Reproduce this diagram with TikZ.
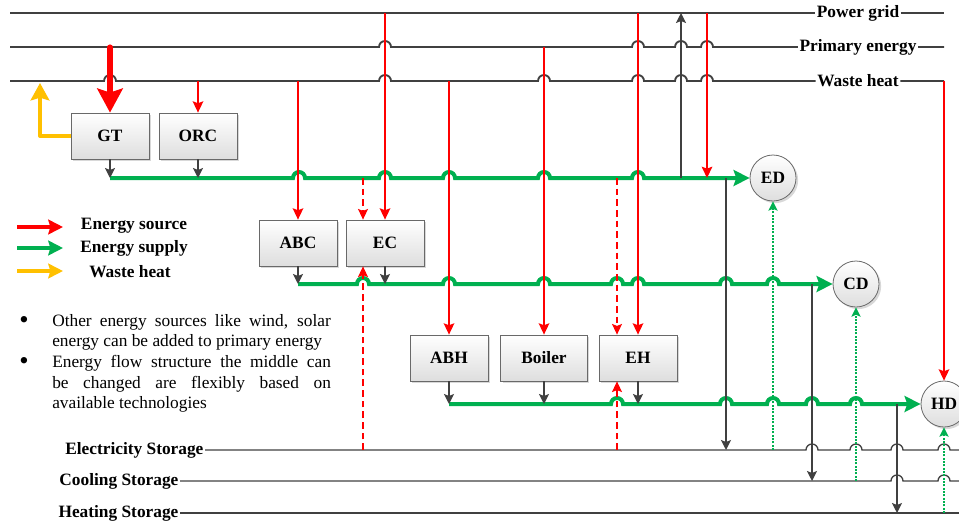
\documentclass[tikz,border=0pt]{standalone}
\usepackage{fontspec}
\setmainfont{Liberation Serif}
\definecolor{srcred}{RGB}{255,0,0}
\definecolor{supgreen}{RGB}{0,176,80}
\definecolor{heatgold}{RGB}{255,192,0}
\definecolor{ink}{RGB}{64,64,64}
\definecolor{rim}{RGB}{105,105,105}
\usetikzlibrary{arrows.meta,positioning,shadows}

\begin{document}
\begin{tikzpicture}[x=0.75pt,y=-0.75pt,
    lab/.style={font=\bfseries\fontsize{13}{15}\selectfont, inner sep=1pt},
    unit/.style={lab, draw=rim, line width=0.6pt, top color=white, bottom color=black!13,
      minimum width=58.5pt, minimum height=34.5pt,
      drop shadow={shadow xshift=1.6pt, shadow yshift=-1.6pt, fill=black!30}},
    load/.style={unit, circle, minimum width=34.5pt, minimum height=34.5pt, inner sep=0pt},
    grid/.style={draw=ink, line width=1.4pt},
    store/.style={draw=ink, line width=1pt},
    supply/.style={draw=supgreen, line width=3pt, -{Stealth[length=12pt,width=12pt,inset=2pt]}},
    src/.style={draw=srcred, line width=1.1pt, -{Stealth[length=8.5pt,width=8pt,inset=1.5pt]}},
    tap/.style={draw=srcred, line width=0.8pt, dash pattern=on 5pt off 3pt,
      -{Stealth[length=8pt,width=7.5pt,inset=1.5pt]}},
    flow/.style={draw=ink, line width=1pt, -{Stealth[length=7.5pt,width=7.5pt,inset=1.5pt]}},
    back/.style={draw=supgreen, line width=0.8pt, dash pattern=on 1.5pt off 1pt,
      -{Stealth[length=7pt,width=7pt,inset=1.5pt]}},
    note/.style={font=\fontsize{13}{15.4}\selectfont, inner sep=0pt},
  ]
  \useasboundingbox (0,0) rectangle (959,521);

  \node[lab] (pg) at (858,13) {Power grid};
  \node[lab] (pe) at (858,47) {Primary energy};
  \node[lab] (wh) at (858,81) {Waste heat};
  \node[lab, anchor=east] (es) at (205,450) {Electricity Storage};
  \node[lab, anchor=east] (cs) at (180,481) {Cooling Storage};
  \node[lab, anchor=east] (hs) at (180,513) {Heating Storage};

  \node[unit] (gt) at (110,136) {GT};
  \node[unit] (orc) at (198,136) {ORC};
  \node[unit] (abc) at (298,243) {ABC};
  \node[unit] (ec) at (385,243) {EC};
  \node[unit] (abh) at (449,358) {ABH};
  \node[unit, minimum width=65pt] (boiler) at (544,358) {Boiler};
  \node[unit] (eh) at (638,358) {EH};
  \node[load] (ed) at (773,178) {ED};
  \node[load] (cd) at (856,284) {CD};
  \node[load] (hd) at (944,404) {HD};

  \coordinate (w) at (10,0);
  \coordinate (wout) at (40,83);
  \coordinate (sell) at (681,0);
  \coordinate (buy) at (707,0);
  \coordinate (echg) at (726,0);
  \coordinate (cchg) at (812,0);
  \coordinate (hchg) at (897,0);
  \coordinate (ecin) at (363,0);
  \coordinate (ehin) at (617,0);
  \coordinate (edge) at (962,0);

  \draw[grid] (w |- pg) -- (pg.west) (pg.east) -- (hd |- pg);
  \draw[grid] (w |- pe) \foreach \h in {385,638,681,707}{ -- (\h-6,47) arc[start angle=180,end angle=0,radius=4.5pt]}
    -- (pe.west) (pe.east) -- (hd |- pe);
  \draw[grid] (w |- wh) \foreach \h in {110,385,544,638,681,707}{ -- (\h-6,81) arc[start angle=180,end angle=0,radius=4.5pt]}
    -- (wh.west) (wh.east) -- (hd |- wh);
  \draw[store] (es.east) \foreach \h in {812,856,897,944}{ -- (\h-6,450) arc[start angle=180,end angle=0,radius=4.5pt]}
    -- (edge |- es);
  \draw[store] (cs.east) \foreach \h in {897,944}{ -- (\h-6,481) arc[start angle=180,end angle=0,radius=4.5pt]}
    -- (edge |- cs);
  \draw[store] (hs.east) -- (edge |- hs);

  \draw[supply] (gt |- ed) \foreach \h in {299,385,449,544,638}{ -- (\h-6,178) arc[start angle=180,end angle=0,radius=4.5pt]} -- (ed);
  \draw[supply] (abc |- cd) \foreach \h in {363,449,544,617,638,726,773}{ -- (\h-6,284) arc[start angle=180,end angle=0,radius=4.5pt]} -- (cd);
  \draw[supply] (abh |- hd) \foreach \h in {617,726,773,812,856}{ -- (\h-6,404) arc[start angle=180,end angle=0,radius=4.5pt]} -- (hd);

  \draw[flow] (gt.south) -- (gt |- ed);
  \draw[flow] (orc.south) -- (orc |- ed);
  \draw[flow] (abc.south) -- (abc |- cd);
  \draw[flow] (ec.south) -- (ec |- cd);
  \draw[flow] (abh.south) -- (abh |- hd);
  \draw[flow] (boiler.south) -- (boiler |- hd);
  \draw[flow] (eh.south) -- (eh |- hd);

  \draw[draw=srcred, line width=3.8pt, line cap=round, -{Stealth[length=18pt,width=19pt,inset=3pt]}] (gt |- pe) -- (gt.north);
  \draw[draw=heatgold, line width=3pt, line join=round, -{Stealth[length=13pt,width=14pt,inset=2pt]}] (gt.west) -| (wout);
  \draw[src] (orc |- wh) -- (orc.north);
  \draw[src] (abc |- wh) -- (abc.north);
  \draw[src] (ec |- pg) -- (ec.north);
  \draw[src] (abh |- wh) -- (abh.north);
  \draw[src] (boiler |- pe) -- (boiler.north);
  \draw[src] (eh |- pg) -- (eh.north);
  \draw[src] (buy |- pg) -- (buy |- ed);
  \draw[src] (hd |- wh) -- (hd.north);
  \draw[tap] (ecin |- ed) -- (ecin |- ec.north);
  \draw[tap] (ecin |- es) -- (ecin |- ec.south);
  \draw[tap] (ehin |- ed) -- (ehin |- eh.north);
  \draw[tap] (ehin |- es) -- (ehin |- eh.south);

  \draw[flow] (sell |- ed) -- (sell |- pg);
  \draw[flow] (echg |- ed) -- (echg |- es);
  \draw[flow] (cchg |- cd) -- (cchg |- cs);
  \draw[flow] (hchg |- hd) -- (hchg |- hs);
  \draw[back] (ed |- es) -- (ed.south);
  \draw[back] (cd |- cs) -- (cd.south);
  \draw[back] (hd |- hs) -- (hd.south);

  \coordinate (k1) at (17,227);
  \coordinate (k2) at (17,248);
  \coordinate (k3) at (17,271);
  \draw[draw=srcred, line width=3pt, -{Stealth[length=11pt,width=11pt,inset=1.5pt]}] (k1) -- ++(46,0);
  \draw[draw=supgreen, line width=3pt, -{Stealth[length=11pt,width=11pt,inset=1.5pt]}] (k2) -- ++(46,0);
  \draw[draw=heatgold, line width=3pt, -{Stealth[length=11pt,width=11pt,inset=1.5pt]}] (k3) -- ++(46,0);
  \node[lab] (k1t) at (134,226) {Energy source};
  \node[lab] (k2t) at (134,248) {Energy supply};
  \node[lab] (k3t) at (130,272) {Waste heat};

  \node[note, font=\fontsize{20}{20}\selectfont] (dot1) at (24,322) {\textbullet};
  \node[note, font=\fontsize{20}{20}\selectfont] (dot2) at (24,363) {\textbullet};
  \node[note, text width=209pt, align=justify, anchor=north west] (note1) at (52,314)
    {Other energy sources like wind, solar\linebreak energy can be added to primary energy};
  \node[note, text width=209pt, align=justify, anchor=north west] (note2) at (52,355)
    {Energy flow structure the middle can\linebreak be changed are flexibly based on\linebreak available technologies};
\end{tikzpicture}
\end{document}
